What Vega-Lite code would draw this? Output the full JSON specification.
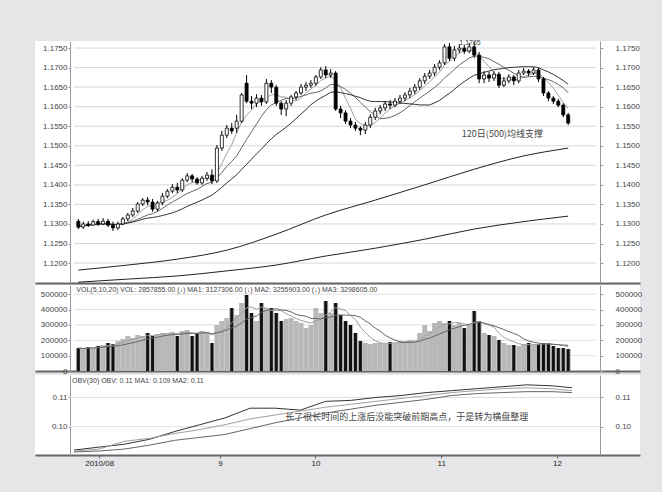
{
"$schema":"https://vega.github.io/schema/vega-lite/v6.json",
"background":"#e6e6e8",
"padding":{"left":35,"top":38,"right":22,"bottom":25},
"spacing":0,
"config":{"view":{"stroke":null,"fill":"#ffffff"},"axis":{"labelFont":"Liberation Sans","labelFontSize":8,"labelColor":"#444","domainColor":"#999","tickColor":"#999","grid":false},"text":{"font":"Liberation Sans"}},
"datasets":{
"k":[
{"i":0,"o":1.1307,"h":1.1313,"l":1.1287,"c":1.1292,"v":149700},
{"i":1,"o":1.1292,"h":1.1306,"l":1.1287,"c":1.1300,"v":143200},
{"i":2,"o":1.1300,"h":1.1307,"l":1.1292,"c":1.1297,"v":156200},
{"i":3,"o":1.1297,"h":1.1311,"l":1.1295,"c":1.1306,"v":149700},
{"i":4,"o":1.1306,"h":1.1313,"l":1.1295,"c":1.1300,"v":162800},
{"i":5,"o":1.1300,"h":1.1315,"l":1.1297,"c":1.1307,"v":169300},
{"i":6,"o":1.1307,"h":1.1313,"l":1.1292,"c":1.1297,"v":182300},
{"i":7,"o":1.1297,"h":1.1306,"l":1.1282,"c":1.1290,"v":175800},
{"i":8,"o":1.1290,"h":1.1306,"l":1.1285,"c":1.1300,"v":195300},
{"i":9,"o":1.1300,"h":1.1318,"l":1.1297,"c":1.1313,"v":208300},
{"i":10,"o":1.1313,"h":1.1328,"l":1.1307,"c":1.1323,"v":227900},
{"i":11,"o":1.1323,"h":1.1341,"l":1.1318,"c":1.1333,"v":214800},
{"i":12,"o":1.1333,"h":1.1356,"l":1.1328,"c":1.1351,"v":234400},
{"i":13,"o":1.1351,"h":1.1366,"l":1.1346,"c":1.1361,"v":227900},
{"i":14,"o":1.1361,"h":1.1369,"l":1.1348,"c":1.1356,"v":247400},
{"i":15,"o":1.1356,"h":1.1364,"l":1.1331,"c":1.1338,"v":227900},
{"i":16,"o":1.1338,"h":1.1359,"l":1.1333,"c":1.1354,"v":240900},
{"i":17,"o":1.1354,"h":1.1379,"l":1.1348,"c":1.1371,"v":247400},
{"i":18,"o":1.1371,"h":1.1389,"l":1.1366,"c":1.1384,"v":247400},
{"i":19,"o":1.1384,"h":1.1402,"l":1.1379,"c":1.1394,"v":253900},
{"i":20,"o":1.1394,"h":1.1405,"l":1.1379,"c":1.1387,"v":227900},
{"i":21,"o":1.1387,"h":1.1417,"l":1.1382,"c":1.1412,"v":260400},
{"i":22,"o":1.1412,"h":1.1430,"l":1.1407,"c":1.1423,"v":266900},
{"i":23,"o":1.1423,"h":1.1428,"l":1.1407,"c":1.1415,"v":227900},
{"i":24,"o":1.1415,"h":1.1420,"l":1.1400,"c":1.1405,"v":247400},
{"i":25,"o":1.1405,"h":1.1423,"l":1.1400,"c":1.1417,"v":260400},
{"i":26,"o":1.1417,"h":1.1433,"l":1.1410,"c":1.1425,"v":253900},
{"i":27,"o":1.1425,"h":1.1440,"l":1.1402,"c":1.1410,"v":182300},
{"i":28,"o":1.1410,"h":1.1502,"l":1.1405,"c":1.1494,"v":299500},
{"i":29,"o":1.1494,"h":1.1538,"l":1.1487,"c":1.1527,"v":325500},
{"i":30,"o":1.1527,"h":1.1553,"l":1.1520,"c":1.1545,"v":345000},
{"i":31,"o":1.1545,"h":1.1558,"l":1.1530,"c":1.1538,"v":410100},
{"i":32,"o":1.1545,"h":1.1579,"l":1.1533,"c":1.1563,"v":364600},
{"i":33,"o":1.1563,"h":1.1635,"l":1.1558,"c":1.1630,"v":442700},
{"i":34,"o":1.1660,"h":1.1681,"l":1.1609,"c":1.1614,"v":494800},
{"i":35,"o":1.1614,"h":1.1627,"l":1.1594,"c":1.1609,"v":377600},
{"i":36,"o":1.1609,"h":1.1632,"l":1.1599,"c":1.1622,"v":325500},
{"i":37,"o":1.1622,"h":1.1630,"l":1.1602,"c":1.1612,"v":442700},
{"i":38,"o":1.1612,"h":1.1671,"l":1.1607,"c":1.1660,"v":410100},
{"i":39,"o":1.1660,"h":1.1668,"l":1.1635,"c":1.1650,"v":410100},
{"i":40,"o":1.1650,"h":1.1655,"l":1.1602,"c":1.1609,"v":377600},
{"i":41,"o":1.1609,"h":1.1614,"l":1.1579,"c":1.1594,"v":325500},
{"i":42,"o":1.1594,"h":1.1617,"l":1.1576,"c":1.1609,"v":338500},
{"i":43,"o":1.1609,"h":1.1630,"l":1.1602,"c":1.1625,"v":345000},
{"i":44,"o":1.1625,"h":1.1640,"l":1.1617,"c":1.1635,"v":325500},
{"i":45,"o":1.1635,"h":1.1658,"l":1.1630,"c":1.1650,"v":312500},
{"i":46,"o":1.1650,"h":1.1663,"l":1.1640,"c":1.1655,"v":279900},
{"i":47,"o":1.1655,"h":1.1668,"l":1.1648,"c":1.1660,"v":299500},
{"i":48,"o":1.1660,"h":1.1681,"l":1.1653,"c":1.1676,"v":410100},
{"i":49,"o":1.1676,"h":1.1701,"l":1.1671,"c":1.1694,"v":377600},
{"i":50,"o":1.1694,"h":1.1704,"l":1.1673,"c":1.1681,"v":455700},
{"i":51,"o":1.1681,"h":1.1696,"l":1.1673,"c":1.1686,"v":377600},
{"i":52,"o":1.1686,"h":1.1691,"l":1.1589,"c":1.1594,"v":442700},
{"i":53,"o":1.1594,"h":1.1602,"l":1.1571,"c":1.1584,"v":364600},
{"i":54,"o":1.1584,"h":1.1591,"l":1.1556,"c":1.1563,"v":325500},
{"i":55,"o":1.1563,"h":1.1571,"l":1.1545,"c":1.1553,"v":299500},
{"i":56,"o":1.1553,"h":1.1561,"l":1.1538,"c":1.1545,"v":247400},
{"i":57,"o":1.1545,"h":1.1550,"l":1.1527,"c":1.1540,"v":195300},
{"i":58,"o":1.1540,"h":1.1561,"l":1.1530,"c":1.1553,"v":182300},
{"i":59,"o":1.1553,"h":1.1581,"l":1.1545,"c":1.1573,"v":175800},
{"i":60,"o":1.1573,"h":1.1597,"l":1.1566,"c":1.1589,"v":182300},
{"i":61,"o":1.1589,"h":1.1604,"l":1.1581,"c":1.1597,"v":182300},
{"i":62,"o":1.1597,"h":1.1614,"l":1.1589,"c":1.1607,"v":175800},
{"i":63,"o":1.1607,"h":1.1617,"l":1.1594,"c":1.1604,"v":188800},
{"i":64,"o":1.1604,"h":1.1622,"l":1.1599,"c":1.1614,"v":182300},
{"i":65,"o":1.1614,"h":1.1630,"l":1.1607,"c":1.1622,"v":195300},
{"i":66,"o":1.1622,"h":1.1637,"l":1.1614,"c":1.1630,"v":195300},
{"i":67,"o":1.1630,"h":1.1648,"l":1.1622,"c":1.1640,"v":201800},
{"i":68,"o":1.1640,"h":1.1658,"l":1.1632,"c":1.1650,"v":195300},
{"i":69,"o":1.1650,"h":1.1673,"l":1.1643,"c":1.1666,"v":247400},
{"i":70,"o":1.1666,"h":1.1686,"l":1.1658,"c":1.1678,"v":299500},
{"i":71,"o":1.1678,"h":1.1694,"l":1.1671,"c":1.1686,"v":260400},
{"i":72,"o":1.1686,"h":1.1709,"l":1.1678,"c":1.1701,"v":312500},
{"i":73,"o":1.1701,"h":1.1719,"l":1.1694,"c":1.1712,"v":325500},
{"i":74,"o":1.1712,"h":1.1760,"l":1.1707,"c":1.1753,"v":312500},
{"i":75,"o":1.1753,"h":1.1763,"l":1.1717,"c":1.1724,"v":325500},
{"i":76,"o":1.1724,"h":1.1755,"l":1.1717,"c":1.1745,"v":299500},
{"i":77,"o":1.1745,"h":1.1760,"l":1.1737,"c":1.1750,"v":312500},
{"i":78,"o":1.1750,"h":1.1758,"l":1.1735,"c":1.1742,"v":279900},
{"i":79,"o":1.1742,"h":1.1763,"l":1.1737,"c":1.1753,"v":299500},
{"i":80,"o":1.1753,"h":1.1765,"l":1.1724,"c":1.1732,"v":390600},
{"i":81,"o":1.1732,"h":1.1740,"l":1.1660,"c":1.1671,"v":325500},
{"i":82,"o":1.1671,"h":1.1691,"l":1.1660,"c":1.1681,"v":247400},
{"i":83,"o":1.1681,"h":1.1689,"l":1.1663,"c":1.1673,"v":234400},
{"i":84,"o":1.1673,"h":1.1691,"l":1.1666,"c":1.1683,"v":227900},
{"i":85,"o":1.1683,"h":1.1689,"l":1.1648,"c":1.1655,"v":201800},
{"i":86,"o":1.1655,"h":1.1676,"l":1.1650,"c":1.1666,"v":182300},
{"i":87,"o":1.1666,"h":1.1683,"l":1.1660,"c":1.1676,"v":169300},
{"i":88,"o":1.1676,"h":1.1681,"l":1.1655,"c":1.1666,"v":169300},
{"i":89,"o":1.1666,"h":1.1694,"l":1.1660,"c":1.1686,"v":162800},
{"i":90,"o":1.1686,"h":1.1699,"l":1.1681,"c":1.1691,"v":175800},
{"i":91,"o":1.1691,"h":1.1696,"l":1.1678,"c":1.1686,"v":182300},
{"i":92,"o":1.1686,"h":1.1701,"l":1.1681,"c":1.1694,"v":169300},
{"i":93,"o":1.1694,"h":1.1699,"l":1.1663,"c":1.1671,"v":175800},
{"i":94,"o":1.1671,"h":1.1676,"l":1.1627,"c":1.1635,"v":182300},
{"i":95,"o":1.1635,"h":1.1640,"l":1.1614,"c":1.1622,"v":182300},
{"i":96,"o":1.1622,"h":1.1627,"l":1.1607,"c":1.1614,"v":162800},
{"i":97,"o":1.1614,"h":1.1620,"l":1.1599,"c":1.1604,"v":149700},
{"i":98,"o":1.1604,"h":1.1609,"l":1.1573,"c":1.1579,"v":149700},
{"i":99,"o":1.1579,"h":1.1584,"l":1.1553,"c":1.1558,"v":143200}
],
"lma":[
{"i":0,"a":1.1182,"b":1.1151},
{"i":10,"a":1.1195,"b":1.1159},
{"i":20,"a":1.1210,"b":1.1167},
{"i":30,"a":1.1233,"b":1.1180},
{"i":40,"a":1.1274,"b":1.1195},
{"i":50,"a":1.1323,"b":1.1218},
{"i":60,"a":1.1361,"b":1.1238},
{"i":70,"a":1.1400,"b":1.1261},
{"i":80,"a":1.1440,"b":1.1287},
{"i":90,"a":1.1474,"b":1.1306},
{"i":99,"a":1.1494,"b":1.1320}
],
"ind":[
{"i":0,"a":0.0920,"b":0.09167,"c":0.09133},
{"i":5,"a":0.0930,"b":0.09233,"c":0.09167},
{"i":10,"a":0.0940,"b":0.0950,"c":0.09233},
{"i":15,"a":0.09567,"b":0.0960,"c":0.09367},
{"i":20,"a":0.09833,"b":0.09767,"c":0.09533},
{"i":25,"a":0.10067,"b":0.0990,"c":0.09633},
{"i":30,"a":0.1030,"b":0.10067,"c":0.09733},
{"i":35,"a":0.10633,"b":0.10267,"c":0.09933},
{"i":40,"a":0.10633,"b":0.1040,"c":0.10133},
{"i":45,"a":0.10567,"b":0.10533,"c":0.1030},
{"i":50,"a":0.10867,"b":0.10667,"c":0.10467},
{"i":55,"a":0.1090,"b":0.10767,"c":0.1060},
{"i":60,"a":0.1100,"b":0.10867,"c":0.10733},
{"i":65,"a":0.11067,"b":0.10967,"c":0.10833},
{"i":70,"a":0.11167,"b":0.11067,"c":0.10933},
{"i":75,"a":0.11233,"b":0.11167,"c":0.11067},
{"i":80,"a":0.1130,"b":0.11233,"c":0.11133},
{"i":85,"a":0.11367,"b":0.1130,"c":0.11167},
{"i":90,"a":0.11433,"b":0.11333,"c":0.1120},
{"i":95,"a":0.1140,"b":0.1130,"c":0.1120},
{"i":99,"a":0.11333,"b":0.11233,"c":0.11167}
],
"pgrid":[{"g":1.12},{"g":1.125},{"g":1.13},{"g":1.135},{"g":1.14},{"g":1.145},{"g":1.15},{"g":1.155},{"g":1.16},{"g":1.165},{"g":1.17},{"g":1.175}],
"vgrid":[{"g":100000},{"g":200000},{"g":300000},{"g":400000},{"g":500000}],
"igrid":[{"g":0.10},{"g":0.11}]
},
"vconcat":[
{
"width":605,"height":242,
"resolve":{"axis":{"y":"independent"}},
"layer":[
{"data":{"name":"pgrid"},"mark":{"type":"rule","color":"#d6d6d6","strokeWidth":1},
 "encoding":{"x":{"datum":-0.8,"type":"quantitative","scale":{"domain":[-7.75,112.5],"nice":false,"zero":false}},"x2":{"datum":104.6},
 "y":{"field":"g","type":"quantitative","scale":{"domain":[1.1149,1.1768],"nice":false,"zero":false},"axis":{"orient":"right","offset":-40,"values":[1.12,1.125,1.13,1.135,1.14,1.145,1.15,1.155,1.16,1.165,1.17,1.175],"format":".4f","tickSize":3,"labelPadding":12,"title":null}}}},
{"data":{"name":"lma"},"transform":[{"fold":["a","b"]}],"mark":{"type":"line","color":"#222","strokeWidth":1,"interpolate":"monotone"},
 "encoding":{"x":{"field":"i","type":"quantitative"},
 "y":{"field":"value","type":"quantitative","axis":null},"detail":{"field":"key"}}},
{"data":{"name":"k"},"transform":[
 {"window":[{"op":"mean","field":"c","as":"ma5"}],"frame":[-4,0],"sort":[{"field":"i"}]},
 {"window":[{"op":"mean","field":"c","as":"ma10"}],"frame":[-9,0],"sort":[{"field":"i"}]},
 {"window":[{"op":"mean","field":"c","as":"ma20"}],"frame":[-19,0],"sort":[{"field":"i"}]},
 {"fold":["ma5","ma10","ma20"]}],
 "mark":{"type":"line","strokeWidth":1},
 "encoding":{"x":{"field":"i","type":"quantitative"},
 "y":{"field":"value","type":"quantitative","axis":null},
 "color":{"field":"key","type":"nominal","scale":{"domain":["ma5","ma10","ma20"],"range":["#a0a0a0","#666666","#333333"]},"legend":null}}},
{"data":{"name":"k"},"mark":{"type":"rule","color":"#000","strokeWidth":1},
 "encoding":{"x":{"field":"i","type":"quantitative","axis":{"orient":"bottom","labels":false,"ticks":false,"domain":true,"domainColor":"#666","domainWidth":2,"grid":false,"title":null}},
 "y":{"field":"l","type":"quantitative","axis":{"orient":"left","offset":-35,"values":[1.12,1.125,1.13,1.135,1.14,1.145,1.15,1.155,1.16,1.165,1.17,1.175],"format":".4f","tickSize":2,"labelPadding":1,"title":null}},"y2":{"field":"h"}}},
{"data":{"name":"k"},"mark":{"type":"bar","width":3,"stroke":"#000","strokeWidth":0.8},
 "encoding":{"x":{"field":"i","type":"quantitative"},
 "y":{"field":"o","type":"quantitative","axis":null},"y2":{"field":"c"},
 "fill":{"condition":{"test":"datum.c < datum.o","value":"#000"},"value":"#fff"}}},
{"data":{"values":[{}]},"mark":{"type":"text","font":"Noto Sans CJK SC","fontSize":9,"color":"#444","align":"center","baseline":"middle"},
 "encoding":{"x":{"datum":85.7,"type":"quantitative"},"y":{"datum":1.1530,"type":"quantitative","axis":null},"text":{"value":"120日(500)均线支撑"}}},
{"data":{"values":[{}]},"mark":{"type":"text","fontSize":7,"color":"#444","align":"left","baseline":"middle"},
 "encoding":{"x":{"datum":77,"type":"quantitative"},"y":{"datum":1.1763,"type":"quantitative","axis":null},"text":{"value":"1.1765"}}}
]
},
{
"width":605,"height":86,
"resolve":{"axis":{"y":"independent"}},
"layer":[
{"data":{"name":"vgrid"},"mark":{"type":"rule","color":"#e0e0e0","strokeWidth":1},
 "encoding":{"x":{"datum":-0.8,"type":"quantitative","scale":{"domain":[-7.75,112.5],"nice":false,"zero":false}},"x2":{"datum":104.6},
 "y":{"field":"g","type":"quantitative","scale":{"domain":[0,560000],"nice":false},"axis":null}}},
{"data":{"name":"k"},"mark":{"type":"bar","width":5,"fill":"#b8b8b8"},
 "encoding":{"x":{"field":"i","type":"quantitative","axis":{"orient":"bottom","labels":false,"ticks":false,"domain":true,"domainColor":"#666","domainWidth":2,"grid":false,"title":null}},
 "y":{"field":"v","type":"quantitative","axis":{"orient":"left","offset":-35,"values":[0,100000,200000,300000,400000,500000],"format":"d","tickSize":2,"labelPadding":1,"title":null}},"y2":{"datum":0}}},
{"data":{"name":"k"},"transform":[{"filter":"datum.c < datum.o"}],"mark":{"type":"bar","width":3,"fill":"#111"},
 "encoding":{"x":{"field":"i","type":"quantitative"},
 "y":{"field":"v","type":"quantitative","axis":{"orient":"right","offset":-40,"values":[0,100000,200000,300000,400000,500000],"format":"d","tickSize":3,"labelPadding":12,"title":null}},"y2":{"datum":0}}},
{"data":{"name":"k"},"transform":[
 {"window":[{"op":"mean","field":"v","as":"m5"}],"frame":[-4,0],"sort":[{"field":"i"}]},
 {"window":[{"op":"mean","field":"v","as":"m10"}],"frame":[-9,0],"sort":[{"field":"i"}]},
 {"fold":["m5","m10"]}],
 "mark":{"type":"line","strokeWidth":1},
 "encoding":{"x":{"field":"i","type":"quantitative"},
 "y":{"field":"value","type":"quantitative","axis":null},
 "color":{"field":"key","type":"nominal","scale":{"domain":["m5","m10"],"range":["#777777","#444444"]},"legend":null}}},
{"data":{"values":[{}]},"mark":{"type":"text","fontSize":7,"color":"#444","align":"left","baseline":"middle"},
 "encoding":{"x":{"datum":-0.4,"type":"quantitative"},"y":{"datum":527000,"type":"quantitative","axis":null},"text":{"value":"VOL(5,10,20)  VOL: 2857855.00 (↓)  MA1: 3127306.00 (↓)  MA2: 3255903.00 (↓)  MA3: 3298605.00"}}}
]
},
{
"width":605,"height":80,
"resolve":{"axis":{"y":"independent"}},
"layer":[
{"data":{"name":"igrid"},"mark":{"type":"rule","color":"#e0e0e0","strokeWidth":1},
 "encoding":{"x":{"datum":-0.8,"type":"quantitative","scale":{"domain":[-7.75,112.5],"nice":false,"zero":false}},"x2":{"datum":104.6},
 "y":{"field":"g","type":"quantitative","scale":{"domain":[0.0903,0.1177],"nice":false,"zero":false},"axis":{"orient":"right","offset":-40,"values":[0.10,0.11],"format":".2f","tickSize":3,"labelPadding":12,"title":null}}}},
{"data":{"name":"ind"},"transform":[{"fold":["a","b","c"]}],"mark":{"type":"line","strokeWidth":1},
 "encoding":{"x":{"field":"i","type":"quantitative","axis":{"orient":"bottom","values":[5,29,48,73,96],"labelExpr":"datum.value == 5 ? '2010/08' : datum.value == 29 ? '9' : datum.value == 48 ? '10' : datum.value == 73 ? '11' : '12'","domainColor":"#666","domainWidth":2,"tickSize":3,"tickColor":"#666","labelColor":"#222","labelPadding":1,"grid":false,"title":null}},
 "y":{"field":"value","type":"quantitative","axis":{"orient":"left","offset":-35,"values":[0.10,0.11],"format":".2f","tickSize":2,"labelPadding":1,"title":null}},
 "color":{"field":"key","type":"nominal","scale":{"domain":["a","b","c"],"range":["#555555","#777777","#999999"]},"legend":null}}},
{"data":{"values":[{}]},"mark":{"type":"text","fontSize":7,"color":"#444","align":"left","baseline":"middle"},
 "encoding":{"x":{"datum":-0.4,"type":"quantitative"},"y":{"datum":0.11567,"type":"quantitative","axis":null},"text":{"value":"OBV(30)  OBV: 0.11  MA1: 0.109  MA2: 0.11"}}},
{"data":{"values":[{}]},"mark":{"type":"text","font":"Noto Sans CJK SC","fontSize":9,"color":"#444","align":"left","baseline":"middle"},
 "encoding":{"x":{"datum":42,"type":"quantitative"},"y":{"datum":0.10333,"type":"quantitative","axis":null},"text":{"value":"长了很长时间的上涨后没能突破前期高点，于是转为横盘整理"}}}
]
}
]
}
